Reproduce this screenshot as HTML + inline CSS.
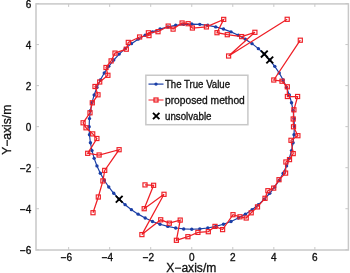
<!DOCTYPE html>
<html><head><meta charset="utf-8"><style>
html,body{margin:0;padding:0;background:#fff;width:350px;height:273px;overflow:hidden;font-family:"Liberation Sans",sans-serif;}
svg{display:block;will-change:transform}
</style></head><body>
<svg width="350" height="273" viewBox="0 0 350 273" font-family="Liberation Sans, sans-serif"><rect x="36.0" y="3.9" width="312.4" height="246.1" fill="none" stroke="#c8c8c8" stroke-width="1.5"/>
<path d="M68.63 250.0v-3M68.63 3.9v3M109.67 250.0v-3M109.67 3.9v3M150.71 250.0v-3M150.71 3.9v3M191.75 250.0v-3M191.75 3.9v3M232.79 250.0v-3M232.79 3.9v3M273.83 250.0v-3M273.83 3.9v3M314.87 250.0v-3M314.87 3.9v3M36.0 249.77h3M348.4 249.77h-3M36.0 208.73h3M348.4 208.73h-3M36.0 167.69h3M348.4 167.69h-3M36.0 126.65h3M348.4 126.65h-3M36.0 85.61h3M348.4 85.61h-3M36.0 44.57h3M348.4 44.57h-3M36.0 3.53h3M348.4 3.53h-3" stroke="#c8c8c8" stroke-width="1" fill="none"/>
<g font-size="10" fill="#111" stroke="#111" stroke-width="0.35"><text x="66.33" y="261" text-anchor="middle">−6</text><text x="107.37" y="261" text-anchor="middle">−4</text><text x="148.41" y="261" text-anchor="middle">−2</text><text x="191.75" y="261" text-anchor="middle">0</text><text x="232.79" y="261" text-anchor="middle">2</text><text x="273.83" y="261" text-anchor="middle">4</text><text x="314.87" y="261" text-anchor="middle">6</text><text x="31.4" y="254.47" text-anchor="end">−6</text><text x="31.4" y="213.43" text-anchor="end">−4</text><text x="31.4" y="172.39" text-anchor="end">−2</text><text x="31.4" y="131.35" text-anchor="end">0</text><text x="31.4" y="90.31" text-anchor="end">2</text><text x="31.4" y="49.27" text-anchor="end">4</text><text x="31.4" y="8.23" text-anchor="end">6</text></g>
<text x="191.3" y="271.5" text-anchor="middle" font-size="12" fill="#111" stroke="#111" stroke-width="0.3" textLength="50" lengthAdjust="spacingAndGlyphs">X−axis/m</text>
<text transform="translate(10.9 129.8) rotate(-90)" text-anchor="middle" font-size="12" fill="#111" stroke="#111" stroke-width="0.3" textLength="50" lengthAdjust="spacingAndGlyphs">Y−axis/m</text>
<polyline points="294.35,126.65 294.03,118.60 293.09,110.60 291.52,102.70 289.33,94.94 286.54,87.39 283.17,80.07 279.23,73.04 274.76,66.34 269.77,60.02 264.30,54.10 258.38,48.63 252.06,43.64 245.36,39.17 238.33,35.23 231.01,31.86 223.46,29.07 215.70,26.88 207.80,25.31 199.80,24.37 191.75,24.05 183.70,24.37 175.70,25.31 167.80,26.88 160.04,29.07 152.49,31.86 145.17,35.23 138.14,39.17 131.44,43.64 125.12,48.63 119.20,54.10 113.73,60.02 108.74,66.34 104.27,73.04 100.33,80.07 96.96,87.39 94.17,94.94 91.98,102.70 90.41,110.60 89.47,118.60 89.15,126.65 89.47,134.70 90.41,142.70 91.98,150.60 94.17,158.36 96.96,165.91 100.33,173.23 104.27,180.26 108.74,186.96 113.73,193.28 119.20,199.20 125.12,204.67 131.44,209.66 138.14,214.13 145.17,218.07 152.49,221.44 160.04,224.23 167.80,226.42 175.70,227.99 183.70,228.93 191.75,229.25 199.80,228.93 207.80,227.99 215.70,226.42 223.46,224.23 231.01,221.44 238.33,218.07 245.36,214.13 252.06,209.66 258.38,204.67 264.30,199.20 269.77,193.28 274.76,186.96 279.23,180.26 283.17,173.23 286.54,165.91 289.33,158.36 291.52,150.60 293.09,142.70 294.03,134.70 294.35,126.65" fill="none" stroke="#1a3ea6" stroke-width="1.2"/>
<g fill="#1a3ea6"><circle cx="294.35" cy="126.65" r="1.7"/><circle cx="294.03" cy="118.60" r="1.7"/><circle cx="293.09" cy="110.60" r="1.7"/><circle cx="291.52" cy="102.70" r="1.7"/><circle cx="289.33" cy="94.94" r="1.7"/><circle cx="286.54" cy="87.39" r="1.7"/><circle cx="283.17" cy="80.07" r="1.7"/><circle cx="279.23" cy="73.04" r="1.7"/><circle cx="274.76" cy="66.34" r="1.7"/><circle cx="269.77" cy="60.02" r="1.7"/><circle cx="264.30" cy="54.10" r="1.7"/><circle cx="258.38" cy="48.63" r="1.7"/><circle cx="252.06" cy="43.64" r="1.7"/><circle cx="245.36" cy="39.17" r="1.7"/><circle cx="238.33" cy="35.23" r="1.7"/><circle cx="231.01" cy="31.86" r="1.7"/><circle cx="223.46" cy="29.07" r="1.7"/><circle cx="215.70" cy="26.88" r="1.7"/><circle cx="207.80" cy="25.31" r="1.7"/><circle cx="199.80" cy="24.37" r="1.7"/><circle cx="191.75" cy="24.05" r="1.7"/><circle cx="183.70" cy="24.37" r="1.7"/><circle cx="175.70" cy="25.31" r="1.7"/><circle cx="167.80" cy="26.88" r="1.7"/><circle cx="160.04" cy="29.07" r="1.7"/><circle cx="152.49" cy="31.86" r="1.7"/><circle cx="145.17" cy="35.23" r="1.7"/><circle cx="138.14" cy="39.17" r="1.7"/><circle cx="131.44" cy="43.64" r="1.7"/><circle cx="125.12" cy="48.63" r="1.7"/><circle cx="119.20" cy="54.10" r="1.7"/><circle cx="113.73" cy="60.02" r="1.7"/><circle cx="108.74" cy="66.34" r="1.7"/><circle cx="104.27" cy="73.04" r="1.7"/><circle cx="100.33" cy="80.07" r="1.7"/><circle cx="96.96" cy="87.39" r="1.7"/><circle cx="94.17" cy="94.94" r="1.7"/><circle cx="91.98" cy="102.70" r="1.7"/><circle cx="90.41" cy="110.60" r="1.7"/><circle cx="89.47" cy="118.60" r="1.7"/><circle cx="89.15" cy="126.65" r="1.7"/><circle cx="89.47" cy="134.70" r="1.7"/><circle cx="90.41" cy="142.70" r="1.7"/><circle cx="91.98" cy="150.60" r="1.7"/><circle cx="94.17" cy="158.36" r="1.7"/><circle cx="96.96" cy="165.91" r="1.7"/><circle cx="100.33" cy="173.23" r="1.7"/><circle cx="104.27" cy="180.26" r="1.7"/><circle cx="108.74" cy="186.96" r="1.7"/><circle cx="113.73" cy="193.28" r="1.7"/><circle cx="119.20" cy="199.20" r="1.7"/><circle cx="125.12" cy="204.67" r="1.7"/><circle cx="131.44" cy="209.66" r="1.7"/><circle cx="138.14" cy="214.13" r="1.7"/><circle cx="145.17" cy="218.07" r="1.7"/><circle cx="152.49" cy="221.44" r="1.7"/><circle cx="160.04" cy="224.23" r="1.7"/><circle cx="167.80" cy="226.42" r="1.7"/><circle cx="175.70" cy="227.99" r="1.7"/><circle cx="183.70" cy="228.93" r="1.7"/><circle cx="191.75" cy="229.25" r="1.7"/><circle cx="199.80" cy="228.93" r="1.7"/><circle cx="207.80" cy="227.99" r="1.7"/><circle cx="215.70" cy="226.42" r="1.7"/><circle cx="223.46" cy="224.23" r="1.7"/><circle cx="231.01" cy="221.44" r="1.7"/><circle cx="238.33" cy="218.07" r="1.7"/><circle cx="245.36" cy="214.13" r="1.7"/><circle cx="252.06" cy="209.66" r="1.7"/><circle cx="258.38" cy="204.67" r="1.7"/><circle cx="264.30" cy="199.20" r="1.7"/><circle cx="269.77" cy="193.28" r="1.7"/><circle cx="274.76" cy="186.96" r="1.7"/><circle cx="279.23" cy="180.26" r="1.7"/><circle cx="283.17" cy="173.23" r="1.7"/><circle cx="286.54" cy="165.91" r="1.7"/><circle cx="289.33" cy="158.36" r="1.7"/><circle cx="291.52" cy="150.60" r="1.7"/><circle cx="293.09" cy="142.70" r="1.7"/><circle cx="294.03" cy="134.70" r="1.7"/></g>
<polyline points="293.50,126.80 293.20,119.00 293.90,109.80 297.60,96.50 287.40,96.50 287.30,86.80 282.00,81.20 273.80,80.00 300.30,40.20" fill="none" stroke="#ee1f26" stroke-width="1.25"/>
<polyline points="287.20,19.30 228.60,56.00 254.90,32.30 241.70,36.60 227.30,34.70 217.00,32.70 223.70,19.40 206.40,26.90 192.40,28.00 188.10,23.70 182.10,23.00 173.10,29.10 168.20,26.10 158.00,31.70 148.40,32.80 149.00,35.60 139.60,37.00 128.30,42.40 126.30,49.20 115.00,53.10 111.10,60.90 106.00,67.50 107.90,75.30 99.70,82.00 95.00,86.50 98.00,94.80 92.30,102.80 90.00,112.80 83.10,122.80 86.00,127.80 92.70,133.90 96.90,138.50 87.70,153.30 99.10,155.00 119.10,149.70 104.70,170.40 102.90,180.90 98.30,197.00 93.00,212.70" fill="none" stroke="#ee1f26" stroke-width="1.25"/>
<polyline points="145.00,184.90 153.60,185.30 144.20,208.70 164.00,194.30 141.90,234.60 160.70,219.80 169.30,223.20 180.20,220.10 176.40,240.30 187.90,236.70 197.90,232.40 208.30,231.70 215.00,226.40 222.60,229.60 233.00,214.70 240.00,216.80 246.20,218.00 251.20,212.80 257.50,206.90 265.00,198.30 267.90,190.70 273.70,188.10 279.00,179.70 285.60,173.10 285.90,162.00 289.50,159.60 293.20,153.60 291.00,140.30 297.90,135.70 293.50,126.80" fill="none" stroke="#ee1f26" stroke-width="1.25"/>
<g fill="none" stroke="#ee1f26" stroke-width="1.15"><rect x="291.45" y="124.75" width="4.1" height="4.1"/><rect x="291.15" y="116.95" width="4.1" height="4.1"/><rect x="291.85" y="107.75" width="4.1" height="4.1"/><rect x="295.55" y="94.45" width="4.1" height="4.1"/><rect x="285.35" y="94.45" width="4.1" height="4.1"/><rect x="285.25" y="84.75" width="4.1" height="4.1"/><rect x="279.95" y="79.15" width="4.1" height="4.1"/><rect x="271.75" y="77.95" width="4.1" height="4.1"/><rect x="298.25" y="38.15" width="4.1" height="4.1"/><rect x="285.15" y="17.25" width="4.1" height="4.1"/><rect x="226.55" y="53.95" width="4.1" height="4.1"/><rect x="252.85" y="30.25" width="4.1" height="4.1"/><rect x="239.65" y="34.55" width="4.1" height="4.1"/><rect x="225.25" y="32.65" width="4.1" height="4.1"/><rect x="214.95" y="30.65" width="4.1" height="4.1"/><rect x="221.65" y="17.35" width="4.1" height="4.1"/><rect x="204.35" y="24.85" width="4.1" height="4.1"/><rect x="190.35" y="25.95" width="4.1" height="4.1"/><rect x="186.05" y="21.65" width="4.1" height="4.1"/><rect x="180.05" y="20.95" width="4.1" height="4.1"/><rect x="171.05" y="27.05" width="4.1" height="4.1"/><rect x="166.15" y="24.05" width="4.1" height="4.1"/><rect x="155.95" y="29.65" width="4.1" height="4.1"/><rect x="146.35" y="30.75" width="4.1" height="4.1"/><rect x="146.95" y="33.55" width="4.1" height="4.1"/><rect x="137.55" y="34.95" width="4.1" height="4.1"/><rect x="126.25" y="40.35" width="4.1" height="4.1"/><rect x="124.25" y="47.15" width="4.1" height="4.1"/><rect x="112.95" y="51.05" width="4.1" height="4.1"/><rect x="109.05" y="58.85" width="4.1" height="4.1"/><rect x="103.95" y="65.45" width="4.1" height="4.1"/><rect x="105.85" y="73.25" width="4.1" height="4.1"/><rect x="97.65" y="79.95" width="4.1" height="4.1"/><rect x="92.95" y="84.45" width="4.1" height="4.1"/><rect x="95.95" y="92.75" width="4.1" height="4.1"/><rect x="90.25" y="100.75" width="4.1" height="4.1"/><rect x="87.95" y="110.75" width="4.1" height="4.1"/><rect x="81.05" y="120.75" width="4.1" height="4.1"/><rect x="83.95" y="125.75" width="4.1" height="4.1"/><rect x="90.65" y="131.85" width="4.1" height="4.1"/><rect x="94.85" y="136.45" width="4.1" height="4.1"/><rect x="85.65" y="151.25" width="4.1" height="4.1"/><rect x="97.05" y="152.95" width="4.1" height="4.1"/><rect x="117.05" y="147.65" width="4.1" height="4.1"/><rect x="102.65" y="168.35" width="4.1" height="4.1"/><rect x="100.85" y="178.85" width="4.1" height="4.1"/><rect x="96.25" y="194.95" width="4.1" height="4.1"/><rect x="90.95" y="210.65" width="4.1" height="4.1"/><rect x="142.95" y="182.85" width="4.1" height="4.1"/><rect x="151.55" y="183.25" width="4.1" height="4.1"/><rect x="142.15" y="206.65" width="4.1" height="4.1"/><rect x="161.95" y="192.25" width="4.1" height="4.1"/><rect x="139.85" y="232.55" width="4.1" height="4.1"/><rect x="158.65" y="217.75" width="4.1" height="4.1"/><rect x="167.25" y="221.15" width="4.1" height="4.1"/><rect x="178.15" y="218.05" width="4.1" height="4.1"/><rect x="174.35" y="238.25" width="4.1" height="4.1"/><rect x="185.85" y="234.65" width="4.1" height="4.1"/><rect x="195.85" y="230.35" width="4.1" height="4.1"/><rect x="206.25" y="229.65" width="4.1" height="4.1"/><rect x="212.95" y="224.35" width="4.1" height="4.1"/><rect x="220.55" y="227.55" width="4.1" height="4.1"/><rect x="230.95" y="212.65" width="4.1" height="4.1"/><rect x="237.95" y="214.75" width="4.1" height="4.1"/><rect x="244.15" y="215.95" width="4.1" height="4.1"/><rect x="249.15" y="210.75" width="4.1" height="4.1"/><rect x="255.45" y="204.85" width="4.1" height="4.1"/><rect x="262.95" y="196.25" width="4.1" height="4.1"/><rect x="265.85" y="188.65" width="4.1" height="4.1"/><rect x="271.65" y="186.05" width="4.1" height="4.1"/><rect x="276.95" y="177.65" width="4.1" height="4.1"/><rect x="283.55" y="171.05" width="4.1" height="4.1"/><rect x="283.85" y="159.95" width="4.1" height="4.1"/><rect x="287.45" y="157.55" width="4.1" height="4.1"/><rect x="291.15" y="151.55" width="4.1" height="4.1"/><rect x="288.95" y="138.25" width="4.1" height="4.1"/><rect x="295.85" y="133.65" width="4.1" height="4.1"/></g>
<path d="M266.37 56.62L273.17 63.42M266.37 63.42L273.17 56.62M260.90 50.70L267.70 57.50M260.90 57.50L267.70 50.70M115.80 195.80L122.60 202.60M115.80 202.60L122.60 195.80" stroke="#000" stroke-width="1.9" fill="none"/>
<rect x="145.85" y="75.25" width="102.05" height="49.45" fill="#fff" stroke="#c8c8c8" stroke-width="1.5"/><path d="M148.5 84.1h15" stroke="#1a3ea6" stroke-width="1.2"/><circle cx="156" cy="84.1" r="1.7" fill="#1a3ea6"/><path d="M148.5 100h15" stroke="#ee1f26" stroke-width="1"/><rect x="154" y="98" width="4" height="4" fill="none" stroke="#ee1f26" stroke-width="1.25"/><path d="M153 112.8l6.4 6.4M153 119.2l6.4-6.4" stroke="#000" stroke-width="1.9"/><g font-size="10" fill="#111" stroke="#111" stroke-width="0.3" lengthAdjust="spacingAndGlyphs"><text x="165.0" y="87.6" textLength="65" lengthAdjust="spacingAndGlyphs">The True Value</text><text x="165.0" y="103.5" textLength="79.8" lengthAdjust="spacingAndGlyphs">proposed method</text><text x="165.0" y="120" textLength="46.5" lengthAdjust="spacingAndGlyphs">unsolvable</text></g></svg>
</body></html>
